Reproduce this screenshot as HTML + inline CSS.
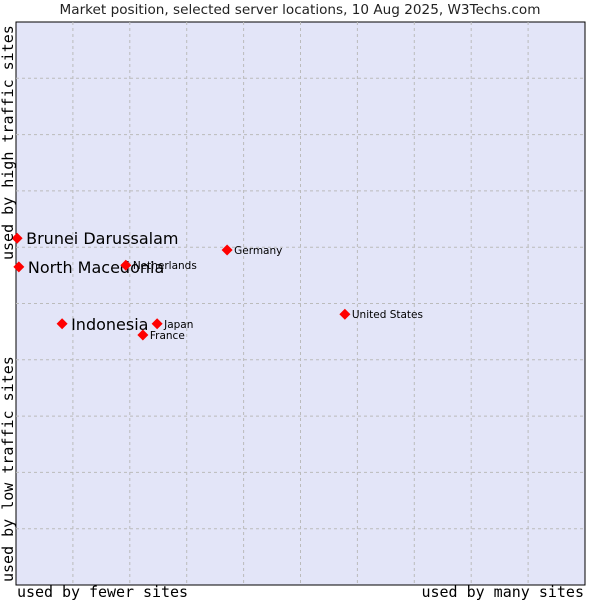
<!DOCTYPE html>
<html><head><meta charset="utf-8"><style>
body{margin:0;background:#fff;}
svg{display:block;}
</style></head><body>
<svg id="chart" width="600" height="600" viewBox="0 0 600 600" xmlns="http://www.w3.org/2000/svg">
<text x="300" y="14" text-anchor="middle" font-family="DejaVu Sans, sans-serif" font-size="13.6" fill="#222">Market position, selected server locations, 10 Aug 2025, W3Techs.com</text>
<rect x="16" y="22" width="569" height="563" fill="#e3e5f8" stroke="#000" stroke-width="1"/>
<g id="grid"></g>
<g id="points"></g>
<text x="17" y="597" textLength="171" font-family="DejaVu Sans Mono, monospace" font-size="15" fill="#000">used by fewer sites</text>
<text x="584" y="597" text-anchor="end" font-family="DejaVu Sans Mono, monospace" font-size="15" fill="#000">used by many sites</text>
<text transform="translate(13,260) rotate(-90)" font-family="DejaVu Sans Mono, monospace" font-size="15" fill="#000">used by high traffic sites</text>
<text transform="translate(13,582) rotate(-90)" font-family="DejaVu Sans Mono, monospace" font-size="15" fill="#000">used by low traffic sites</text>
</svg>
<script>
const names=["Brunei Darussalam","North Macedonia","Indonesia","Netherlands","Germany","United States","Japan","France"];
const xVals=[0.2,0.5,8.1,19.3,37.1,57.8,24.8,22.3];
const yVals=[61.6,56.5,46.4,56.8,59.5,48.1,46.4,44.4];
const highlighted=[true,true,true,false,false,false,false,false];
const X0=16,X1=585,Y0=22,Y1=585;
const sx=v=>X0+(X1-X0)*v/100;
const sy=v=>Y1-(Y1-Y0)*v/100;
const NS="http://www.w3.org/2000/svg";
const grid=document.getElementById('grid');
for(let i=1;i<10;i++){
  const v=document.createElementNS(NS,'line');
  v.setAttribute('x1',sx(i*10));v.setAttribute('x2',sx(i*10));
  v.setAttribute('y1',Y0);v.setAttribute('y2',Y1);
  v.setAttribute('stroke','#bbb');v.setAttribute('stroke-dasharray','3,3');
  
  
  grid.appendChild(v);
  const h=document.createElementNS(NS,'line');
  h.setAttribute('x1',X0);h.setAttribute('x2',X1);
  h.setAttribute('y1',sy(i*10));h.setAttribute('y2',sy(i*10));
  h.setAttribute('stroke','#bbb');h.setAttribute('stroke-dasharray','3,3');
  
  
  grid.appendChild(h);
}
const pts=document.getElementById('points');
names.forEach((n,i)=>{
  const x=sx(xVals[i]),y=sy(yVals[i]);
  const d=document.createElementNS(NS,'polygon');
  d.setAttribute('points',`${x},${y-5.5} ${x+5.5},${y} ${x},${y+5.5} ${x-5.5},${y}`);
  d.setAttribute('fill','#f00');
  
  
  pts.appendChild(d);
  const t=document.createElementNS(NS,'text');
  const big=highlighted[i];
  t.setAttribute('x',x+(big?9:7));
  t.setAttribute('y',y+(big?6:4));
  t.setAttribute('font-family','DejaVu Sans, sans-serif');
  t.setAttribute('font-size',big?16:10.5);
  t.setAttribute('fill','#000');
  t.textContent=n;
  
  
  pts.appendChild(t);
});
</script>
</body></html>
